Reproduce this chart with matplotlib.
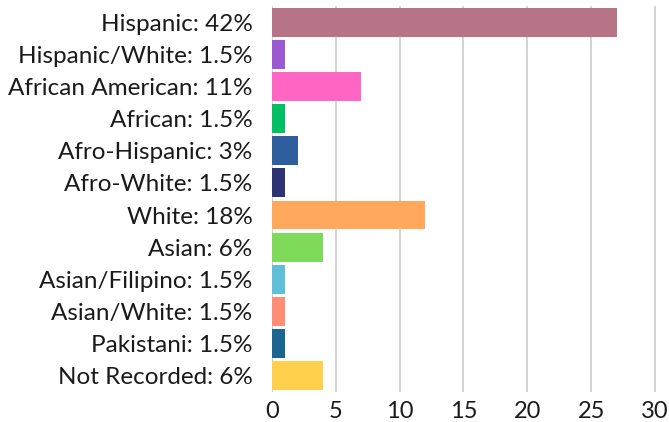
import matplotlib.pyplot as plt

labels = ["Hispanic: 42%", "Hispanic/White: 1.5%", "African American: 11%", "African: 1.5%",
          "Afro-Hispanic: 3%", "Afro-White: 1.5%", "White: 18%", "Asian: 6%",
          "Asian/Filipino: 1.5%", "Asian/White: 1.5%", "Pakistani: 1.5%", "Not Recorded: 6%"]
counts = [27, 1, 7, 1, 2, 1, 12, 4, 1, 1, 1, 4]
colors = ["#b87487", "#9b5ad2", "#ff66c4", "#00c063", "#2e5e9d", "#2e3371",
          "#ffa75a", "#80da5a", "#5fbfd8", "#ff8c75", "#1a6690", "#ffd04b"]
xticks = [0, 5, 10, 15, 20, 25, 30]

plt.rcParams['font.family'] = ['Lato', 'DejaVu Sans']

fig = plt.figure(figsize=(6.69, 4.22), dpi=100)
ax = fig.add_axes([0.4066, 0.072, 0.5934, 0.913])
y = list(range(len(labels)))
ax.barh(y, counts, height=0.9, color=colors, zorder=3)
ax.set_ylim(len(labels) - 0.5, -0.5)
ax.set_xlim(0, 31.1)
ax.set_yticks(y)
ax.set_yticklabels(labels, fontsize=17.5, color="#1a1a1a")
ax.set_xticks(xticks)
ax.set_xticklabels([str(t) for t in xticks], fontsize=17, color="#1a1a1a")
ax.tick_params(axis="y", length=0, pad=14)
ax.tick_params(axis="x", length=0, pad=7)
ax.grid(axis="x", color="#cccccc", linewidth=1.2, zorder=0)
for s in ax.spines.values():
    s.set_visible(False)

fig.savefig("out.png", dpi=100)
